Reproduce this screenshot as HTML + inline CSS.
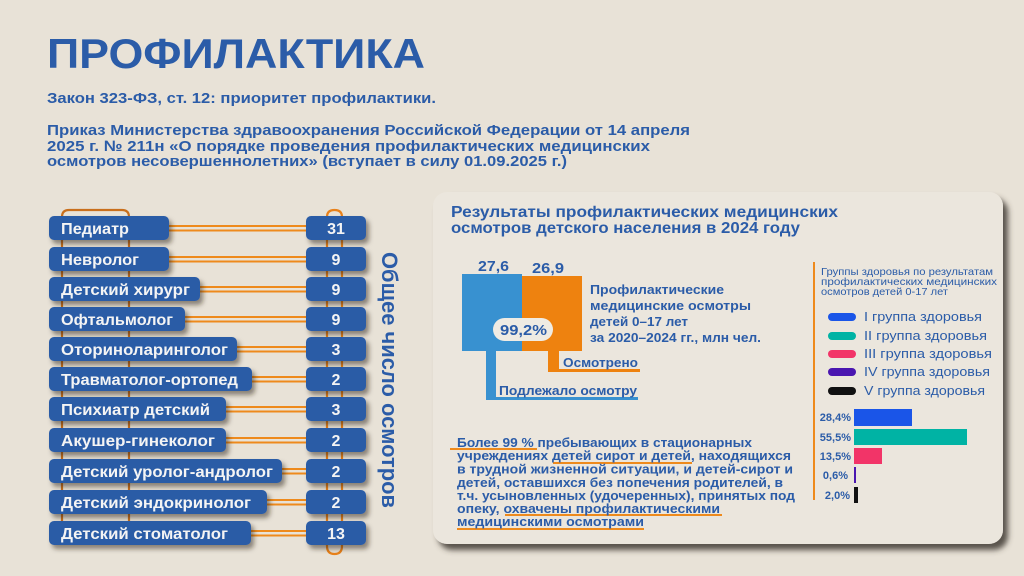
<!DOCTYPE html>
<html><head><meta charset="utf-8"><style>
html,body{margin:0;padding:0;background:#e8e2d7;}
svg{display:block;}
text{font-family:"Liberation Sans",sans-serif;}
</style></head><body>
<svg width="1024" height="576" viewBox="0 0 1024 576" xmlns="http://www.w3.org/2000/svg">
<defs>
<filter id="sh" x="-20%" y="-40%" width="150%" height="200%"><feDropShadow dx="3" dy="4" stdDeviation="2.5" flood-color="#2a2418" flood-opacity="0.5"/></filter>
<filter id="psh" x="-5%" y="-5%" width="115%" height="120%"><feDropShadow dx="5" dy="6" stdDeviation="3" flood-color="#403a30" flood-opacity="0.85"/></filter>
</defs>
<rect width="1024" height="576" fill="#e8e2d7"/>

<!-- header -->
<g fill="#2b5ca8" font-weight="bold">
<text x="47" y="68" font-size="42" textLength="378" lengthAdjust="spacingAndGlyphs">ПРОФИЛАКТИКА</text>
<text x="47" y="103" font-size="15" textLength="389" lengthAdjust="spacingAndGlyphs">Закон 323-ФЗ, ст. 12: приоритет профилактики.</text>
<text x="47" y="135" font-size="15" textLength="643" lengthAdjust="spacingAndGlyphs">Приказ Министерства здравоохранения Российской Федерации от 14 апреля</text>
<text x="47" y="151" font-size="15" textLength="603" lengthAdjust="spacingAndGlyphs">2025 г. № 211н «О порядке проведения профилактических медицинских</text>
<text x="47" y="166" font-size="15" textLength="520" lengthAdjust="spacingAndGlyphs">осмотров несовершеннолетних» (вступает в силу 01.09.2025 г.)</text>
</g>

<!-- rails -->
<g fill="none" stroke-width="2.2">
<path d="M62,535 V217 Q62,210 69,210 H122 Q129,210 129,217 V535" stroke="#c96f1c"/>
<path d="M327,540 V217 Q327,210 334.5,210 Q342,210 342,217 V546 Q342,554 334.5,554 Q327,554 327,546 Z" stroke="#e8811a"/>
</g>

<!-- connectors -->
<g fill="#ee8a1c">
<rect x="169" y="225" width="137" height="2"/><rect x="169" y="229.5" width="137" height="2"/>
<rect x="169" y="256" width="137" height="2"/><rect x="169" y="260.5" width="137" height="2"/>
<rect x="200" y="286" width="106" height="2"/><rect x="200" y="290.5" width="106" height="2"/>
<rect x="185" y="316" width="121" height="2"/><rect x="185" y="320.5" width="121" height="2"/>
<rect x="237" y="346" width="69" height="2"/><rect x="237" y="350.5" width="69" height="2"/>
<rect x="252" y="376" width="54" height="2"/><rect x="252" y="380.5" width="54" height="2"/>
<rect x="226" y="406" width="80" height="2"/><rect x="226" y="410.5" width="80" height="2"/>
<rect x="226" y="437" width="80" height="2"/><rect x="226" y="441.5" width="80" height="2"/>
<rect x="282" y="468" width="24" height="2"/><rect x="282" y="472.5" width="24" height="2"/>
<rect x="267" y="499" width="39" height="2"/><rect x="267" y="503.5" width="39" height="2"/>
<rect x="251" y="530" width="55" height="2"/><rect x="251" y="534.5" width="55" height="2"/>
</g>

<!-- label boxes -->
<g fill="#2b5ca6" filter="url(#sh)">
<rect x="49" y="216" width="120" height="24" rx="5"/>
<rect x="49" y="247" width="120" height="24" rx="5"/>
<rect x="49" y="277" width="151" height="24" rx="5"/>
<rect x="49" y="307" width="136" height="24" rx="5"/>
<rect x="49" y="337" width="188" height="24" rx="5"/>
<rect x="49" y="367" width="203" height="24" rx="5"/>
<rect x="49" y="397" width="177" height="24" rx="5"/>
<rect x="49" y="428" width="177" height="24" rx="5"/>
<rect x="49" y="459" width="233" height="24" rx="5"/>
<rect x="49" y="490" width="218" height="24" rx="5"/>
<rect x="49" y="521" width="202" height="24" rx="5"/>
<rect x="306" y="216" width="60" height="24" rx="5"/>
<rect x="306" y="247" width="60" height="24" rx="5"/>
<rect x="306" y="277" width="60" height="24" rx="5"/>
<rect x="306" y="307" width="60" height="24" rx="5"/>
<rect x="306" y="337" width="60" height="24" rx="5"/>
<rect x="306" y="367" width="60" height="24" rx="5"/>
<rect x="306" y="397" width="60" height="24" rx="5"/>
<rect x="306" y="428" width="60" height="24" rx="5"/>
<rect x="306" y="459" width="60" height="24" rx="5"/>
<rect x="306" y="490" width="60" height="24" rx="5"/>
<rect x="306" y="521" width="60" height="24" rx="5"/>
</g>
<g fill="#f4f4f4" font-weight="bold" font-size="16">
<text x="61" y="234" textLength="68" lengthAdjust="spacingAndGlyphs">Педиатр</text>
<text x="61" y="265" textLength="78" lengthAdjust="spacingAndGlyphs">Невролог</text>
<text x="61" y="295" textLength="129" lengthAdjust="spacingAndGlyphs">Детский хирург</text>
<text x="61" y="325" textLength="112" lengthAdjust="spacingAndGlyphs">Офтальмолог</text>
<text x="61" y="355" textLength="167" lengthAdjust="spacingAndGlyphs">Оториноларинголог</text>
<text x="61" y="385" textLength="177" lengthAdjust="spacingAndGlyphs">Травматолог-ортопед</text>
<text x="61" y="415" textLength="149" lengthAdjust="spacingAndGlyphs">Психиатр детский</text>
<text x="61" y="446" textLength="154" lengthAdjust="spacingAndGlyphs">Акушер-гинеколог</text>
<text x="61" y="477" textLength="212" lengthAdjust="spacingAndGlyphs">Детский уролог-андролог</text>
<text x="61" y="508" textLength="190" lengthAdjust="spacingAndGlyphs">Детский эндокринолог</text>
<text x="61" y="539" textLength="167" lengthAdjust="spacingAndGlyphs">Детский стоматолог</text>
</g>
<g fill="#f4f4f4" font-weight="bold" font-size="16" text-anchor="middle">
<text x="336" y="234">31</text>
<text x="336" y="265">9</text>
<text x="336" y="295">9</text>
<text x="336" y="325">9</text>
<text x="336" y="355">3</text>
<text x="336" y="385">2</text>
<text x="336" y="415">3</text>
<text x="336" y="446">2</text>
<text x="336" y="477">2</text>
<text x="336" y="508">2</text>
<text x="336" y="539">13</text>
</g>
<text transform="translate(382,252) rotate(90)" fill="#2b5ca8" font-weight="bold" font-size="22" textLength="256" lengthAdjust="spacingAndGlyphs">Общее число осмотров</text>

<!-- panel -->
<rect x="433" y="192" width="570" height="352" rx="14" fill="#ebe6dd" filter="url(#psh)"/>
<g fill="#2b5ca8" font-weight="bold">
<text x="451" y="217" font-size="16" textLength="387" lengthAdjust="spacingAndGlyphs">Результаты профилактических медицинских</text>
<text x="451" y="233" font-size="16" textLength="349" lengthAdjust="spacingAndGlyphs">осмотров детского населения в 2024 году</text>
<text x="478" y="271" font-size="15" textLength="31" lengthAdjust="spacingAndGlyphs">27,6</text>
<text x="532" y="273" font-size="15" textLength="32" lengthAdjust="spacingAndGlyphs">26,9</text>
</g>
<!-- blue/orange figure -->
<rect x="548" y="350" width="11" height="22" fill="#ee820f"/>
<rect x="548" y="369" width="92" height="3" fill="#ee820f"/>
<rect x="486" y="350" width="10" height="50" fill="#3891d0"/>
<rect x="486" y="397" width="152" height="3" fill="#3891d0"/>
<rect x="462" y="274" width="60" height="77" fill="#3891d0"/>
<rect x="522" y="276" width="60" height="75" fill="#ee820f"/>
<rect x="493" y="318" width="60" height="23" rx="11.5" fill="#efebe3"/>
<g fill="#2b5ca8" font-weight="bold">
<text x="500" y="335" font-size="15" textLength="47" lengthAdjust="spacingAndGlyphs">99,2%</text>
<text x="590" y="294" font-size="13" textLength="134" lengthAdjust="spacingAndGlyphs">Профилактические</text>
<text x="590" y="310" font-size="13" textLength="161" lengthAdjust="spacingAndGlyphs">медицинские  осмотры</text>
<text x="590" y="326" font-size="13" textLength="98" lengthAdjust="spacingAndGlyphs">детей 0–17 лет</text>
<text x="590" y="342" font-size="13" textLength="171" lengthAdjust="spacingAndGlyphs">за 2020–2024 гг., млн чел.</text>
<text x="563" y="367" font-size="13" textLength="75" lengthAdjust="spacingAndGlyphs">Осмотрено</text>
<text x="499" y="395" font-size="13" textLength="138" lengthAdjust="spacingAndGlyphs">Подлежало осмотру</text>
</g>

<!-- health groups -->
<rect x="813" y="262" width="2" height="238" fill="#ee8a1c"/>
<g fill="#2b5ca8" font-size="10.5">
<text x="821" y="275" textLength="172" lengthAdjust="spacingAndGlyphs">Группы здоровья по результатам</text>
<text x="821" y="285" textLength="176" lengthAdjust="spacingAndGlyphs">профилактических  медицинских</text>
<text x="821" y="295" textLength="127" lengthAdjust="spacingAndGlyphs">осмотров детей 0-17 лет</text>
</g>
<rect x="828" y="313" width="28" height="8" rx="4" fill="#1a55e8"/>
<rect x="828" y="332" width="28" height="8" rx="4" fill="#00b3a4"/>
<rect x="828" y="350" width="28" height="8" rx="4" fill="#f23468"/>
<rect x="828" y="368" width="28" height="8" rx="4" fill="#4a16b0"/>
<rect x="828" y="387" width="28" height="8" rx="4" fill="#111111"/>
<g fill="#2b5ca8" font-size="13">
<text x="864" y="321" textLength="118" lengthAdjust="spacingAndGlyphs">I группа здоровья</text>
<text x="864" y="340" textLength="123" lengthAdjust="spacingAndGlyphs">II группа здоровья</text>
<text x="864" y="358" textLength="128" lengthAdjust="spacingAndGlyphs">III группа здоровья</text>
<text x="864" y="376" textLength="126" lengthAdjust="spacingAndGlyphs">IV группа здоровья</text>
<text x="864" y="395" textLength="121" lengthAdjust="spacingAndGlyphs">V группа здоровья</text>
</g>
<rect x="854" y="409" width="58" height="17" fill="#1a55e8"/>
<rect x="854" y="429" width="113" height="16" fill="#00b3a4"/>
<rect x="854" y="448" width="28" height="16" fill="#f23468"/>
<rect x="854" y="467" width="2" height="16" fill="#4a16b0"/>
<rect x="854" y="487" width="4" height="16" fill="#111111"/>
<g fill="#2b5ca8" font-size="11" font-weight="bold" text-anchor="end">
<text x="851" y="421">28,4%</text>
<text x="851" y="441">55,5%</text>
<text x="851" y="460">13,5%</text>
<text x="848" y="479">0,6%</text>
<text x="850" y="499">2,0%</text>
</g>

<!-- bottom text -->
<g fill="#ee8a1c">
<rect x="450" y="448" width="87" height="2"/>
<rect x="553" y="462" width="139" height="2"/>
<rect x="505" y="514" width="217" height="2"/>
<rect x="457" y="528" width="187" height="2"/>
</g>
<g fill="#2b5ca8" font-weight="bold" font-size="13">
<text x="457" y="447" textLength="295" lengthAdjust="spacingAndGlyphs">Более 99 % пребывающих в стационарных</text>
<text x="457" y="460" textLength="334" lengthAdjust="spacingAndGlyphs">учреждениях детей сирот и детей, находящихся</text>
<text x="457" y="473.5" textLength="336" lengthAdjust="spacingAndGlyphs">в трудной жизненной ситуации,  и детей-сирот и</text>
<text x="457" y="487" textLength="326" lengthAdjust="spacingAndGlyphs">детей, оставшихся без попечения родителей, в</text>
<text x="457" y="500" textLength="338" lengthAdjust="spacingAndGlyphs">т.ч. усыновленных (удочеренных), принятых под</text>
<text x="457" y="513" textLength="263" lengthAdjust="spacingAndGlyphs">опеку, охвачены профилактическими</text>
<text x="457" y="526" textLength="187" lengthAdjust="spacingAndGlyphs">медицинскими осмотрами</text>
</g>
</svg>
</body></html>
